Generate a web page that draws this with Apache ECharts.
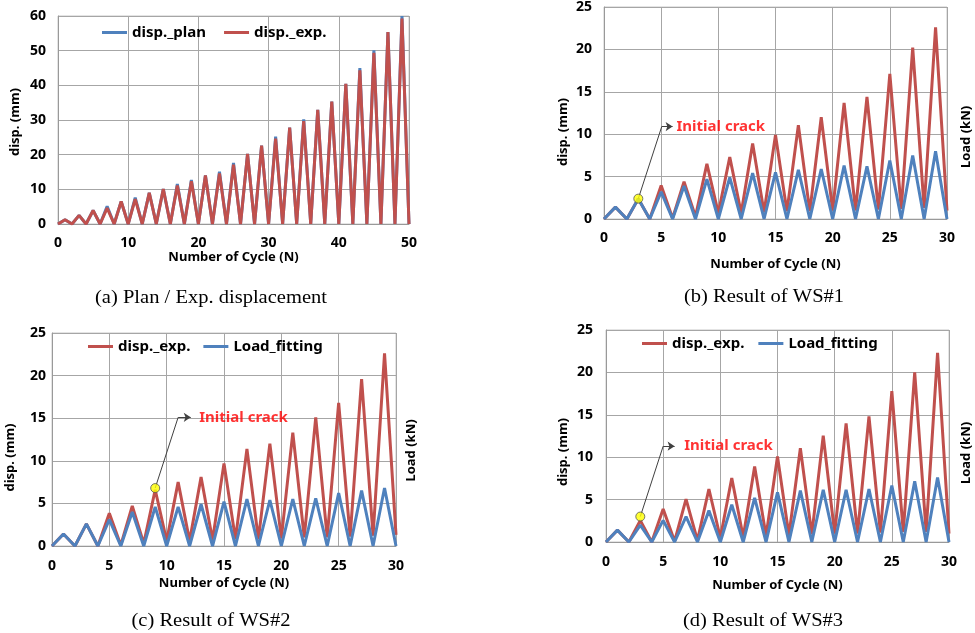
<!DOCTYPE html>
<html>
<head>
<meta charset="utf-8">
<script src="https://cdn.jsdelivr.net/npm/echarts@6/dist/echarts.min.js"></script>
<style>
html, body { margin: 0; padding: 0; background: #fff; }
#chart { width: 975px; height: 633px; }
</style>
</head>
<body>
<div id="chart"></div>
<script>
var RED = '#C0504D', BLUE = '#4F81BD';
var FONT = 'Noto Sans';

// (a) plan / exp. displacement, one value per cycle 0..50
var planA = [0, 1.25, 0, 2.5, 0, 3.9, 0, 5.1, 0, 6.5, 0, 7.6, 0, 9.0, 0, 10.1, 0, 11.5, 0, 12.7, 0,
  14.0, 0, 15.1, 0, 17.6, 0, 20.2, 0, 22.6, 0, 25.2, 0, 27.8, 0, 30.2, 0, 32.9, 0, 35.3, 0,
  40.4, 0, 45.0, 0, 50.1, 0, 55.4, 0, 60.0, 0];
var expA = [0, 1.25, 0, 2.5, 0, 3.9, 0, 4.6, 0, 6.5, 0, 7.2, 0, 9.0, 0, 10.1, 0, 11.1, 0, 12.3, 0,
  14.0, 0, 14.6, 0, 17.1, 0, 20.2, 0, 22.6, 0, 24.6, 0, 27.8, 0, 29.7, 0, 32.9, 0, 35.3, 0,
  40.4, 0, 44.3, 0, 49.4, 0, 55.4, 0, 59.3, 0];

// (b) WS#1, cycle 0..30
var expB = [0, 1.4, 0, 2.4, 0, 3.95, 0.1, 4.4, 0.3, 6.5, 0.7, 7.3, 0.7, 8.9, 0.8, 9.9, 0.9,
  11.05, 0.9, 12.0, 1.0, 13.7, 1.0, 14.4, 1.1, 17.1, 1.2, 20.2, 1.3, 22.6, 1.0];
var loadB = [0, 1.4, 0, 2.4, 0, 3.2, 0, 3.9, 0, 4.7, 0, 4.9, 0, 5.4, 0, 5.5, 0,
  5.8, 0, 5.9, 0, 6.3, 0, 6.2, 0, 6.9, 0, 7.5, 0, 8.0, 0];

// (c) WS#2
var expC = [0, 1.4, 0, 2.6, 0, 3.85, 0.1, 4.7, 0.3, 6.6, 0.6, 7.5, 0.6, 8.1, 0.7, 9.7, 0.8,
  11.4, 0.8, 12.0, 0.9, 13.3, 1.0, 15.1, 1.0, 16.8, 1.1, 19.6, 1.2, 22.6, 1.3];
var loadC = [0, 1.4, 0, 2.6, 0, 3.1, 0, 4.0, 0, 4.6, 0, 4.6, 0, 4.9, 0, 5.2, 0,
  5.5, 0, 5.4, 0, 5.5, 0, 5.6, 0, 6.2, 0, 6.5, 0, 6.8, 0];

// (d) WS#3
var expD = [0, 1.4, 0, 2.55, 0, 3.9, 0.1, 5.05, 0.2, 6.25, 0.5, 7.55, 0.6, 8.9, 0.7, 10.1, 0.8,
  11.05, 0.9, 12.55, 1.0, 14.0, 1.0, 14.8, 1.1, 17.8, 1.2, 20.0, 1.2, 22.3, 1.0];
var loadD = [0, 1.4, 0, 2.0, 0, 2.55, 0, 3.0, 0, 3.7, 0, 4.4, 0, 5.2, 0, 5.85, 0,
  6.05, 0, 6.15, 0, 6.15, 0, 6.25, 0, 6.67, 0, 7.15, 0, 7.6, 0];

// initial crack points [cycle, disp]
var crackB = [3, 2.4];
var crackC = [9, 6.8];
var crackD = [3, 3.0];

var captions = ['(a) Plan / Exp. displacement', '(b) Result of WS#1', '(c) Result of WS#2', '(d) Result of WS#3'];

function pairs(vals) {
  return vals.map(function (v, i) { return [i, v]; });
}

var chart = echarts.init(document.getElementById('chart'), null, { renderer: 'canvas' });

var grids = [
  { left: 58, top: 16, width: 351, height: 208 },
  { left: 604, top: 7, width: 343, height: 212 },
  { left: 52, top: 333, width: 344, height: 213 },
  { left: 606, top: 330, width: 343, height: 212 }
].map(function (g) {
  g.show = true;
  g.borderColor = '#c8c8c8';
  g.borderWidth = 1;
  return g;
});

function xAxis(gi, max, interval, margin, nameGap) {
  return {
    gridIndex: gi, type: 'value', min: 0, max: max, interval: interval,
    axisLine: { lineStyle: { color: '#999' } },
    axisTick: { show: false },
    splitLine: { show: true, lineStyle: { color: '#a6a6a6' } },
    axisLabel: { color: '#000', fontWeight: 'bold', fontSize: 14, margin: margin, fontFamily: FONT },
    name: 'Number of Cycle (N)', nameLocation: 'middle', nameGap: nameGap,
    nameTextStyle: { color: '#000', fontWeight: 'bold', fontSize: 13, fontFamily: FONT }
  };
}

function yAxis(gi, max, interval, margin, nameGap, shift) {
  return {
    gridIndex: gi, type: 'value', min: 0, max: max, interval: interval,
    axisLine: { show: true, lineStyle: { color: '#999' } },
    axisTick: { show: false },
    splitLine: { show: true, lineStyle: { color: '#a6a6a6' } },
    axisLabel: { color: '#000', fontWeight: 'bold', fontSize: 14, margin: margin, fontFamily: FONT },
    name: 'disp. (mm)', nameLocation: 'middle', nameGap: nameGap, nameRotate: 90,
    nameTextStyle: { color: '#000', fontWeight: 'bold', fontSize: 13, fontFamily: FONT, padding: [0, shift * 2, 0, 0] }
  };
}

function loadAxis(gi, nameGap, shift) {
  return {
    gridIndex: gi, type: 'value', position: 'right', min: 0, max: 25,
    axisLine: { show: false }, axisTick: { show: false },
    axisLabel: { show: false }, splitLine: { show: false },
    name: 'Load (kN)', nameLocation: 'middle', nameGap: nameGap, nameRotate: 90,
    nameTextStyle: { color: '#000', fontWeight: 'bold', fontSize: 13, fontFamily: FONT, padding: [0, shift * 2, 0, 0] }
  };
}

function line(name, gi, vals, color) {
  return {
    name: name, type: 'line', xAxisIndex: gi, yAxisIndex: gi,
    data: pairs(vals), showSymbol: false, symbol: 'none',
    lineStyle: { color: color, width: 3 }, itemStyle: { color: color }
  };
}

function crack(gi, pt, elbow, arrowEnd, textAt) {
  return [{
    type: 'scatter', xAxisIndex: gi, yAxisIndex: gi, data: [pt], z: 5,
    symbolSize: 9, itemStyle: { color: '#ffff00', borderColor: '#555', borderWidth: 1 },
    markLine: {
      silent: true, symbol: 'none', label: { show: false },
      lineStyle: { color: '#404040', width: 1, type: 'solid' },
      data: [
        [{ coord: pt }, { coord: elbow }],
        [{ coord: elbow, symbol: 'none' }, { coord: arrowEnd, symbol: 'arrow', symbolSize: 7 }]
      ]
    }
  }, {
    type: 'scatter', xAxisIndex: gi, yAxisIndex: gi, data: [textAt], z: 5,
    symbolSize: 1, itemStyle: { color: 'rgba(0,0,0,0)' },
    label: {
      show: true, position: 'right', distance: 0, formatter: 'Initial crack',
      color: '#ff0000', fontWeight: 'bold', fontSize: 15, fontFamily: FONT
    }
  }];
}

var legendBase = {
  icon: 'rect', itemWidth: 25, itemHeight: 3, padding: 0,
  textStyle: { color: '#000', fontWeight: 'bold', fontSize: 15, fontFamily: FONT }
};

var series = [
  line('disp._plan', 0, planA, BLUE),
  line('disp._exp.', 0, expA, RED),
  line('disp._exp.', 1, expB, RED),
  line('Load_fitting', 1, loadB, BLUE),
  line('disp._exp.', 2, expC, RED),
  line('Load_fitting', 2, loadC, BLUE),
  line('disp._exp.', 3, expD, RED),
  line('Load_fitting', 3, loadD, BLUE)
]
  .concat(crack(1, crackB, [5.05, 10.9], [6, 10.9], [6.3, 10.9]))
  .concat(crack(2, crackC, [11.0, 15.1], [12.1, 15.1], [12.8, 15.1]))
  .concat(crack(3, crackD, [5.0, 11.3], [6.0, 11.3], [6.8, 11.3]));

var option = {
  animation: false,
  backgroundColor: '#fff',
  textStyle: { fontFamily: FONT },
  grid: grids,
  xAxis: [
    xAxis(0, 50, 10, 12, 27),
    xAxis(1, 30, 5, 12, 39),
    xAxis(2, 30, 5, 13, 31),
    xAxis(3, 30, 5, 13, 37)
  ],
  yAxis: [
    yAxis(0, 60, 10, 12, 36, 2),
    yAxis(1, 25, 5, 12, 34, 19),
    yAxis(2, 25, 5, 6, 35, 18),
    yAxis(3, 25, 5, 13, 36, 16),
    loadAxis(1, 13, 24),
    loadAxis(2, 9, 11),
    loadAxis(3, 11, 17)
  ],
  legend: [
    Object.assign({ left: 102, top: 25, itemGap: 18, data: ['disp._plan', 'disp._exp.'] }, legendBase),
    Object.assign({ left: 88, top: 339, itemGap: 13, data: ['disp._exp.', 'Load_fitting'] }, legendBase),
    Object.assign({ left: 642, top: 336, itemGap: 14, data: ['disp._exp.', 'Load_fitting'] }, legendBase)
  ],
  graphic: [
    { x: 211, y: 298, text: captions[0] },
    { x: 764, y: 297, text: captions[1] },
    { x: 211, y: 621, text: captions[2] },
    { x: 763, y: 621, text: captions[3] }
  ].map(function (c) {
    return {
      type: 'text', x: c.x, y: c.y, scaleX: 1.08,
      style: { text: c.text, fontFamily: 'Liberation Serif', fontSize: 19, fill: '#000', align: 'center', verticalAlign: 'middle' }
    };
  }),
  series: series
};

chart.setOption(option);
</script>
</body>
</html>
